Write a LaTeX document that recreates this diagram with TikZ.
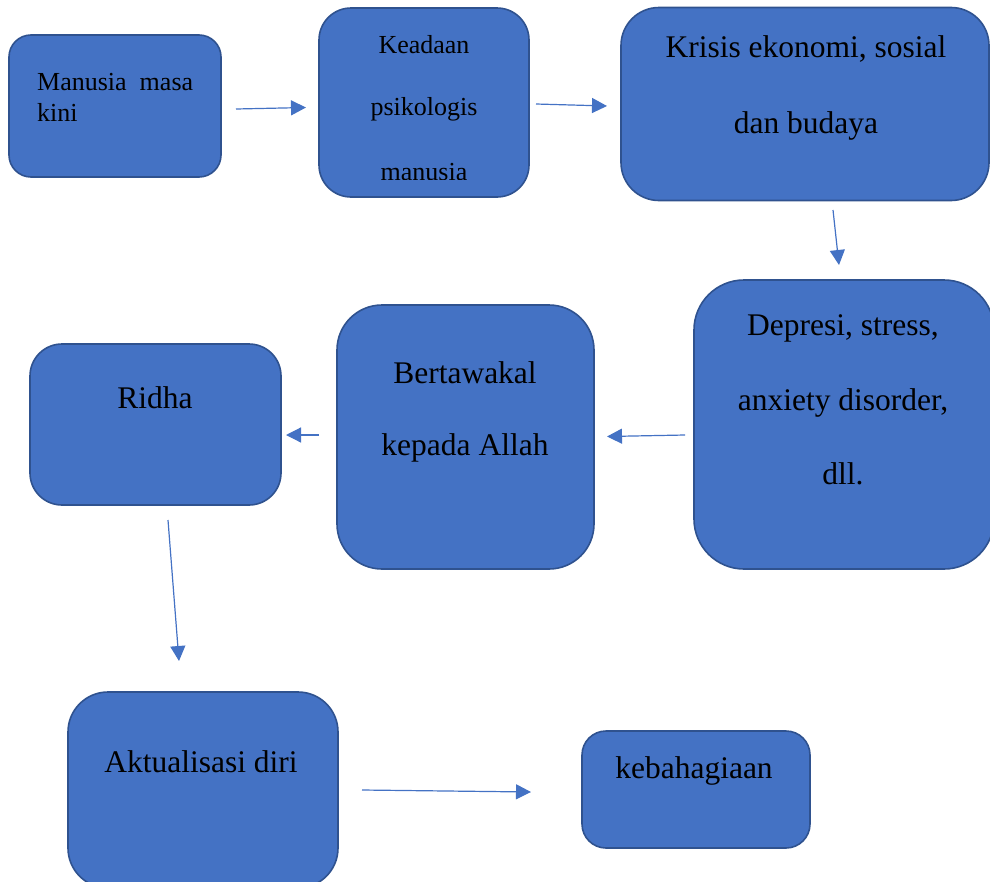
\documentclass[tikz,border=0pt]{standalone}
\usepackage{fontspec}
\setmainfont{Liberation Serif}
\usetikzlibrary{arrows.meta}
\definecolor{boxfill}{HTML}{4472C4}
\definecolor{boxline}{HTML}{2F528F}
\definecolor{arrowcol}{HTML}{4472C4}
\tikzset{
  box/.style={draw=boxline, fill=boxfill, line width=1.6pt, inner sep=0pt},
  lbl/.style={anchor=base, inner sep=0pt, text=black},
  conn/.style={draw=arrowcol, line width=1.2pt, -{Triangle[length=15pt,width=15pt]}},
}
\begin{document}
\begin{tikzpicture}[x=1pt,y=-1pt]
\useasboundingbox (0,0) rectangle (990,881);
\clip (0,0) rectangle (990,881);
% boxes
\node[box, rounded corners=22pt, minimum width=212pt, minimum height=142pt] (b1) at (115,106) {};
\node[box, rounded corners=32pt, minimum width=210pt, minimum height=189pt] (b2) at (424,102.5) {};
\node[box, rounded corners=38pt, minimum width=368pt, minimum height=193pt] (b3) at (805,104) {};
\node[box, rounded corners=50pt, minimum width=300pt, minimum height=289pt] (b4) at (844,424.5) {};
\node[box, rounded corners=45pt, minimum width=257pt, minimum height=264pt] (b5) at (465.5,437) {};
\node[box, rounded corners=32pt, minimum width=251pt, minimum height=161pt] (b6) at (155.5,424.5) {};
\node[box, rounded corners=40pt, minimum width=270pt, minimum height=196pt] (b7) at (203,790) {};
\node[box, rounded corners=24pt, minimum width=228pt, minimum height=117pt] (b8) at (696,789.5) {};
% texts
\begin{scope}[font=\fontsize{26}{30}\selectfont]
\node[lbl, anchor=base west] (t1a) at (37,90) {Manusia\hspace{13pt}masa};
\node[lbl, anchor=base west] (t1b) at (37,121) {kini};
\node[lbl] (t2a) at (424,53) {Keadaan};
\node[lbl] (t2b) at (424,115) {psikologis};
\begin{scope}
\clip (319,150) rectangle (529,179);
\node[lbl] (t2c) at (424,180) {manusia};
\end{scope}
\end{scope}
\begin{scope}[font=\fontsize{31.5}{36}\selectfont]
\node[lbl] (t3a) at (806,57) {Krisis ekonomi, sosial};
\node[lbl] (t3b) at (806,133) {dan budaya};
\node[lbl] (t4a) at (843,335) {Depresi, stress,};
\node[lbl] (t4b) at (843,410) {anxiety disorder,};
\node[lbl] (t4c) at (843,484) {dll.};
\node[lbl] (t5a) at (465,383) {Bertawakal};
\node[lbl] (t5b) at (465,455) {kepada Allah};
\node[lbl] (t6) at (155,408) {Ridha};
\node[lbl] (t7) at (201,772) {Aktualisasi diri};
\node[lbl] (t8) at (694,778) {kebahagiaan};
\end{scope}
% connector end points
\coordinate (a1s) at (236,109); \coordinate (a1e) at (306,107.5);
\coordinate (a2s) at (536,104); \coordinate (a2e) at (607,106);
\coordinate (a3s) at (833,210); \coordinate (a3e) at (839,265);
\coordinate (a4s) at (685,435); \coordinate (a4e) at (607,436.5);
\coordinate (a5s) at (319,435); \coordinate (a5e) at (286,435);
\coordinate (a6s) at (168,520); \coordinate (a6e) at (179,661);
\coordinate (a7s) at (362,790); \coordinate (a7e) at (531,792);
\draw[conn] (a1s) -- (a1e);
\draw[conn] (a2s) -- (a2e);
\draw[conn] (a3s) -- (a3e);
\draw[conn] (a4s) -- (a4e);
\draw[conn] (a5s) -- (a5e);
\draw[conn] (a6s) -- (a6e);
\draw[conn] (a7s) -- (a7e);
\end{tikzpicture}
\end{document}
